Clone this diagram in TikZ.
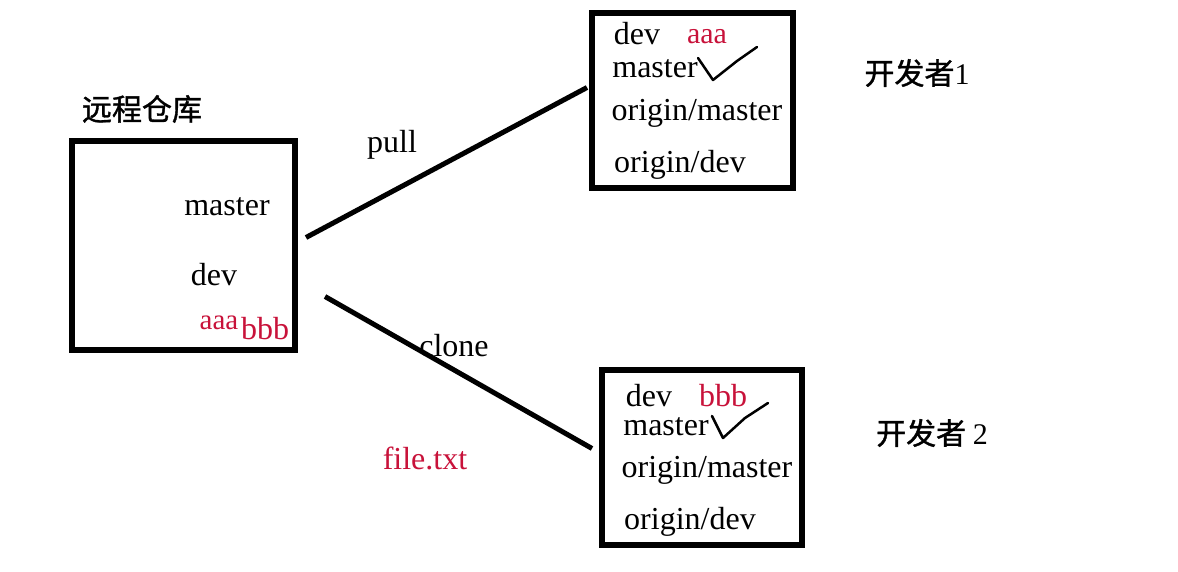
\documentclass[tikz,border=0pt]{standalone}
\usepackage{fontspec}
\setmainfont{Liberation Serif}
\newfontfamily\cjk{Noto Sans CJK SC}[FakeBold=1.2]
\usetikzlibrary{calc}
\definecolor{markred}{RGB}{200,18,58}

\begin{document}
\begin{tikzpicture}[x=1pt,y=-1pt,font=\fontsize{32}{36}\selectfont,
  box/.style={draw,line width=6pt,inner sep=0pt},
  link/.style={line width=5pt},
  word/.style={anchor=base,inner sep=0pt},
  redword/.style={word,text=markred},
  title/.style={inner sep=0pt,font=\fontsize{30}{34}\selectfont\cjk},
  tick/.style={line width=2.5pt,line join=round,line cap=round}]
 \useasboundingbox (0,0) rectangle (1178,572);
 % remote repository
 \node[box,minimum width=223pt,minimum height=208pt] (remote) at (183.5,245.5) {};
 \node[title] (remotetitle) at (142,109) {远程仓库};
 \node[word] (rmaster) at (227,216) {master};
 \node[word] (rdev) at (214,285) {dev};
 \node[redword,font=\fontsize{29}{32}\selectfont] (raaa) at (219,329) {aaa};
 \node[redword] (rbbb) at (265,339) {bbb};
 % developer 1
 \node[box,minimum width=201pt,minimum height=175pt] (dev1) at (692.5,100.5) {};
 \node[word] (adev) at (637,45) {dev};
 \node[redword,font=\fontsize{30}{32}\selectfont] (aaaa) at (707,44) {aaa};
 \node[word] (amaster) at (655,78) {master};
 \node[word] (aomaster) at (697,121) {origin/master};
 \node[word] (aodev) at (680,173) {origin/dev};
 \draw[tick] (698,58) -- (713,80) -- (737,61) -- (757,47);
 \node[title] (dev1title) at (917,73) {开发者\rmfamily 1};
 % developer 2
 \node[box,minimum width=200pt,minimum height=175pt] (dev2) at (702,457.5) {};
 \node[word] (bdev) at (649,406) {dev};
 \node[redword] (bbbb) at (723,406) {bbb};
 \node[word] (bmaster) at (666,435) {master};
 \node[word] (bomaster) at (707,477) {origin/master};
 \node[word] (bodev) at (690,529) {origin/dev};
 \draw[tick] (712,416) -- (723,438) -- (745,418) -- (768,403);
 \node[title] (dev2title) at (932,433) {开发者 \rmfamily 2};
 % connectors
 \draw[link] ($(remote.east)+(8,-8)$) -- ($(dev1.west)+(-2,-13)$);
 \draw[link] ($(remote.east)+(27,51)$) -- ($(dev2.west)+(-7,-9)$);
 \node[word] (pull) at (392,153) {pull};
 \node[word] (clone) at (454,356) {clone};
 \node[redword] (file) at (425,469) {file.txt};
\end{tikzpicture}
\end{document}
